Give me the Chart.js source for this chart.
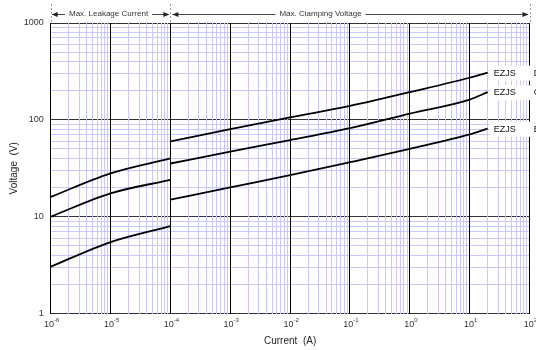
<!DOCTYPE html>
<html>
<head>
<meta charset="utf-8">
<script src="https://cdn.jsdelivr.net/npm/chart.js@4/dist/chart.umd.min.js"></script>
<style>
  html, body { margin: 0; padding: 0; background: #fff; }
  canvas { display: block; }
</style>
</head>
<body>
<canvas id="chart" width="536" height="350"></canvas>
<script>
// Leakage region (1 µA .. 100 µA) and clamping region (100 µA .. 20 A)
const leakCurrent  = [1e-6, 1e-5, 1e-4];
const clampCurrent = [1e-4, 1e-3, 1e-2, 1e-1, 1, 10, 20];

// Voltage for each series (V)
const leakD  = [16, 28, 40];
const leakC  = [10, 17.4, 24];
const leakB  = [3.04, 5.47, 8.0];
const clampD = [60, 80, 106, 139, 193, 272, 307];
const clampC = [35.4, 47, 61.7, 82, 116, 162, 193];
const clampB = [15, 20.1, 26.8, 36.5, 50.2, 70.6, 81];

const seriesNames = ['D', 'C', 'B'];
const seriesPrefix = 'EZJS';

const xTickExps = [-6, -5, -4, -3, -2, -1, 0, 1, 2];
const yTickValues = [1, 10, 100, 1000];

const regionLabels = ['Max. Leakage Current', 'Max. Clamping Voltage'];
const xTitle = 'Current  (A)';
const yTitle = 'Voltage  (V)';

const FONT = "'Liberation Sans', Arial, sans-serif";

function toPoints(xs, ys) { return xs.map((x, i) => ({ x, y: ys[i] })); }

function seg(xs, ys) {
  return {
    data: toPoints(xs, ys),
    showLine: true,
    borderColor: '#000',
    borderWidth: 1.8,
    pointRadius: 0,
    fill: false,
    cubicInterpolationMode: 'monotone'
  };
}

const datasets = [
  seg(leakCurrent, leakD), seg(leakCurrent, leakC), seg(leakCurrent, leakB),
  seg(clampCurrent, clampD), seg(clampCurrent, clampC), seg(clampCurrent, clampB)
];

function isMajor(v) {
  const l = Math.log10(v);
  return Math.abs(l - Math.round(l)) < 1e-9;
}

function logTicks(scale) {
  const lo = Math.round(Math.log10(scale.min));
  const hi = Math.round(Math.log10(scale.max));
  const t = [];
  for (let e = lo; e <= hi; e++) {
    for (let m = 1; m <= 9; m++) {
      const v = m * Math.pow(10, e);
      if (v <= scale.max * 1.0000001) t.push({ value: v });
      if (e === hi) break;
    }
  }
  scale.ticks = t;
}

function arrowHead(ctx, x, y, dir) {
  ctx.beginPath();
  ctx.moveTo(x, y);
  ctx.lineTo(x - dir * 6, y - 2.5);
  ctx.lineTo(x - dir * 6, y + 2.5);
  ctx.closePath();
  ctx.fill();
}

const decor = {
  id: 'decor',
  beforeDraw(chart) {
    const ctx = chart.ctx;
    ctx.save();
    ctx.fillStyle = '#fff';
    ctx.fillRect(0, 0, chart.width, chart.height);
    ctx.restore();
  },
  afterDatasetsDraw(chart) {
    const ctx = chart.ctx;
    const xs = chart.scales.x, ys = chart.scales.y;
    const area = chart.chartArea;
    ctx.save();

    // series labels at the end of each clamping curve
    const ends = [clampD, clampC, clampB];
    const lastX = clampCurrent[clampCurrent.length - 1];
    ctx.font = '9px ' + FONT;
    ctx.textBaseline = 'middle';
    ends.forEach((arr, i) => {
      const py = ys.getPixelForValue(arr[arr.length - 1]);
      const px = xs.getPixelForValue(lastX);
      ctx.fillStyle = '#fff';
      ctx.fillRect(px + 2, py - 7, chart.width - px, 15);
      ctx.fillStyle = '#111';
      ctx.textAlign = 'left';
      ctx.fillText(seriesPrefix, px + 6, py + 0.5);
      ctx.fillText(seriesNames[i], px + 46, py + 0.5);
    });

    // y tick labels
    ctx.fillStyle = '#333';
    ctx.font = '9px ' + FONT;
    ctx.textAlign = 'right';
    ctx.textBaseline = 'middle';
    yTickValues.forEach(v => {
      ctx.fillText(String(v), area.left - 7, ys.getPixelForValue(v));
    });

    // x tick labels as 10 with superscript exponent
    ctx.textBaseline = 'alphabetic';
    xTickExps.forEach(e => {
      const px = xs.getPixelForValue(Math.pow(10, e));
      const base = '10', sup = String(e);
      ctx.font = '9px ' + FONT;
      const wb = ctx.measureText(base).width;
      ctx.font = '6px ' + FONT;
      const ws = ctx.measureText(sup).width;
      const x0 = px - (wb + ws) / 2 + 1;
      ctx.textAlign = 'left';
      ctx.font = '9px ' + FONT;
      ctx.fillText(base, x0, area.bottom + 13);
      ctx.font = '6px ' + FONT;
      ctx.fillText(sup, x0 + wb, area.bottom + 8);
    });

    // axis titles
    ctx.fillStyle = '#222';
    ctx.font = '10px ' + FONT;
    ctx.textAlign = 'center';
    ctx.textBaseline = 'middle';
    ctx.fillText(xTitle, (area.left + area.right) / 2, 341);
    ctx.save();
    ctx.translate(14, (area.top + area.bottom) / 2);
    ctx.rotate(-Math.PI / 2);
    ctx.fillText(yTitle, 0, 0);
    ctx.restore();

    // region annotations above the plot
    const xa = xs.getPixelForValue(1e-6);
    const xb = xs.getPixelForValue(1e-4);
    const xc = xs.getPixelForValue(1e2);
    const ay = 14;
    ctx.strokeStyle = '#999';
    ctx.lineWidth = 1;
    ctx.setLineDash([2, 2]);
    [xa, xb, xc].forEach(x => {
      const rx = Math.round(x) + 0.5;
      ctx.beginPath();
      ctx.moveTo(rx, 4);
      ctx.lineTo(rx, area.top);
      ctx.stroke();
    });
    ctx.setLineDash([]);

    ctx.font = '8px ' + FONT;
    ctx.textBaseline = 'middle';
    ctx.textAlign = 'left';
    ctx.strokeStyle = '#444';
    ctx.fillStyle = '#333';

    // leakage region
    const t1 = regionLabels[0];
    const w1 = ctx.measureText(t1).width;
    const t1x = (xa + xb) / 2 - w1 / 2 - 2;
    ctx.fillText(t1, t1x, ay);
    ctx.beginPath();
    ctx.moveTo(xa + 2, ay + 0.5); ctx.lineTo(t1x - 4, ay + 0.5);
    ctx.moveTo(t1x + w1 + 4, ay + 0.5); ctx.lineTo(xb - 2, ay + 0.5);
    ctx.stroke();
    ctx.fillStyle = '#222';
    arrowHead(ctx, xa + 1, ay + 0.5, -1);
    arrowHead(ctx, xb - 1, ay + 0.5, 1);

    // clamping region
    ctx.fillStyle = '#333';
    const t2 = regionLabels[1];
    const w2 = ctx.measureText(t2).width;
    const t2x = xb + 109;
    ctx.fillText(t2, t2x, ay);
    ctx.beginPath();
    ctx.moveTo(xb + 2, ay + 0.5); ctx.lineTo(t2x - 4, ay + 0.5);
    ctx.moveTo(t2x + w2 + 4, ay + 0.5); ctx.lineTo(xc - 2, ay + 0.5);
    ctx.stroke();
    ctx.fillStyle = '#222';
    arrowHead(ctx, xb + 2, ay + 0.5, -1);
    arrowHead(ctx, xc - 1, ay + 0.5, 1);

    ctx.restore();
  }
};

function gridColor(dark) {
  return ctx => {
    const v = ctx.tick && ctx.tick.value;
    return v && isMajor(v) ? dark : '#c8c8ff';
  };
}

new Chart(document.getElementById('chart'), {
  type: 'scatter',
  data: { datasets },
  options: {
    responsive: false,
    animation: false,
    devicePixelRatio: 1,
    layout: { padding: { top: 23, right: 6.5, left: 0, bottom: 0 } },
    plugins: { legend: { display: false }, tooltip: { enabled: false } },
    scales: {
      x: {
        type: 'logarithmic',
        min: 1e-6,
        max: 100,
        position: 'bottom',
        border: { display: false },
        ticks: { display: false },
        // vertical lines go on top of the horizontal ones
        grid: { color: gridColor('#000'), lineWidth: 1, drawTicks: false, z: -1 },
        afterBuildTicks: logTicks,
        afterFit: s => { s.height = 36.5; }
      },
      y: {
        type: 'logarithmic',
        min: 1,
        max: 1000,
        border: { display: false },
        ticks: { display: false },
        grid: { color: gridColor('#333'), lineWidth: 1, drawTicks: false, z: -2 },
        afterBuildTicks: logTicks,
        afterFit: s => { s.width = 50.7; }
      }
    }
  },
  plugins: [decor]
});
</script>
</body>
</html>
